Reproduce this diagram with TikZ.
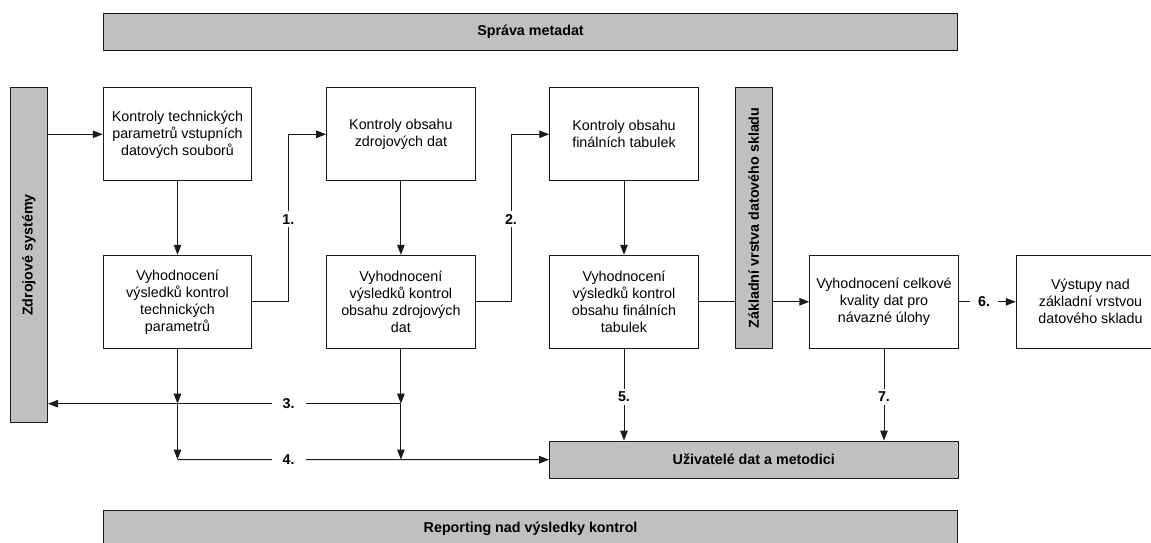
\documentclass[tikz,border=0pt]{standalone}
\usepackage{fontspec}
\setmainfont{Liberation Sans}
\usetikzlibrary{arrows.meta,backgrounds}
\definecolor{barfill}{HTML}{C0C0C0}
\definecolor{ink}{HTML}{1A1A1A}

\begin{document}
\begin{tikzpicture}[x=1pt,y=-1pt,
  every node/.style={font=\fontsize{14.3}{17}\selectfont},
  procbox/.style={draw=ink,line width=1pt,fill=white,minimum width=148.5pt,
    minimum height=93pt,inner sep=0pt,align=center},
  graybar/.style={draw=ink,line width=1pt,fill=barfill,inner sep=0pt,
    font=\fontsize{14.3}{17}\selectfont\bfseries},
  numlbl/.style={fill=white,inner xsep=8pt,inner ysep=3pt,
    font=\fontsize{14.3}{17}\selectfont\bfseries},
  flow/.style={draw=ink,line width=1pt,-{Triangle[length=10pt,width=7.5pt]}},
  plain/.style={draw=ink,line width=1pt}
]
\useasboundingbox (0,0) rectangle (1151,543);

% gray bands
\node[graybar,minimum width=854.3pt,minimum height=37.4pt] (meta) at (530.5,32) {Správa metadat};
\node[graybar,minimum width=37.2pt,minimum height=334.6pt] (zs) at (28.9,255) {\rotatebox{90}{Zdrojové systémy}};
\node[graybar,minimum width=37pt,minimum height=260.6pt] (zv) at (753.8,218) {\rotatebox{90}{Základní vrstva datového skladu}};
\node[graybar,minimum width=408.4pt,minimum height=37.3pt] (users) at (753.8,459.7) {Uživatelé dat a metodici};
\node[graybar,minimum width=854.7pt,minimum height=37.3pt] (rep) at (530.6,529) {Reporting nad výsledky kontrol};

% process boxes
\node[procbox] (A)  at (177.5,134.3) {Kontroly technických\\parametrů vstupních\\datových souborů};
\node[procbox] (B)  at (400.9,134.3) {Kontroly obsahu\\zdrojových dat};
\node[procbox] (C)  at (624,134.3)   {Kontroly obsahu\\finálních tabulek};
\node[procbox] (A2) at (177.5,301.8) {Vyhodnocení\\výsledků kontrol\\technických\\parametrů};
\node[procbox] (B2) at (400.9,301.8) {Vyhodnocení\\výsledků kontrol\\obsahu zdrojových\\dat};
\node[procbox] (C2) at (624,301.8)   {Vyhodnocení\\výsledků kontrol\\obsahu finálních\\tabulek};
\node[procbox] (D)  at (884,301.8)   {Vyhodnocení celkové\\kvality dat pro\\návazné úlohy};
\node[procbox] (E)  at (1090.5,301.8) {Výstupy nad\\základní vrstvou\\datového skladu};

% label positions on the connectors
\coordinate (k1) at (288.4,219.3);
\coordinate (k2) at (511,219.3);
\coordinate (k3) at (288.6,403.7);
\coordinate (k4) at (288.6,459.5);
\coordinate (k5) at (624,396.7);
\coordinate (k6) at (984,301.8);
\coordinate (k7) at (884,396.7);

\begin{scope}[on background layer]
  \draw[flow] (zs.east |- A.west) -- (A.west);
  \draw[flow] (A.south) -- (A2.north);
  \draw[flow] (B.south) -- (B2.north);
  \draw[flow] (C.south) -- (C2.north);
  \draw[flow] (A2.east) -- (A2.east -| k1) |- (B.west);
  \draw[flow] (B2.east) -- (B2.east -| k2) |- (C.west);
  \draw[flow] (C2.east) -- (D.west);
  \draw[flow] (D.east) -- (E.west);
  % feedback to the sources and reports to the users
  \draw[flow] (A2.south) -- (A2.south |- k3);
  \draw[flow] (A2.south |- k3) -- (A2.south |- k4);
  \draw[flow] (A2.south |- k4) -- (users.west);
  \draw[flow] (B2.south) -- (B2.south |- k3);
  \draw[flow] (B2.south |- k3) -- (B2.south |- k4);
  \draw[flow] (B2.south |- k3) -- (zs.east |- k3);
  \draw[flow] (C2.south) -- (C2.south |- users.north);
  \draw[flow] (D.south) -- (D.south |- users.north);
\end{scope}

% step numbers
\node[numlbl] (n1) at (k1) {1.};
\node[numlbl] (n2) at (k2) {2.};
\node[numlbl,inner xsep=11pt] (n3) at (k3) {3.};
\node[numlbl,inner xsep=11pt] (n4) at (k4) {4.};
\node[numlbl] (n5) at (k5) {5.};
\node[numlbl] (n6) at (k6) {6.};
\node[numlbl] (n7) at (k7) {7.};
\end{tikzpicture}
\end{document}
